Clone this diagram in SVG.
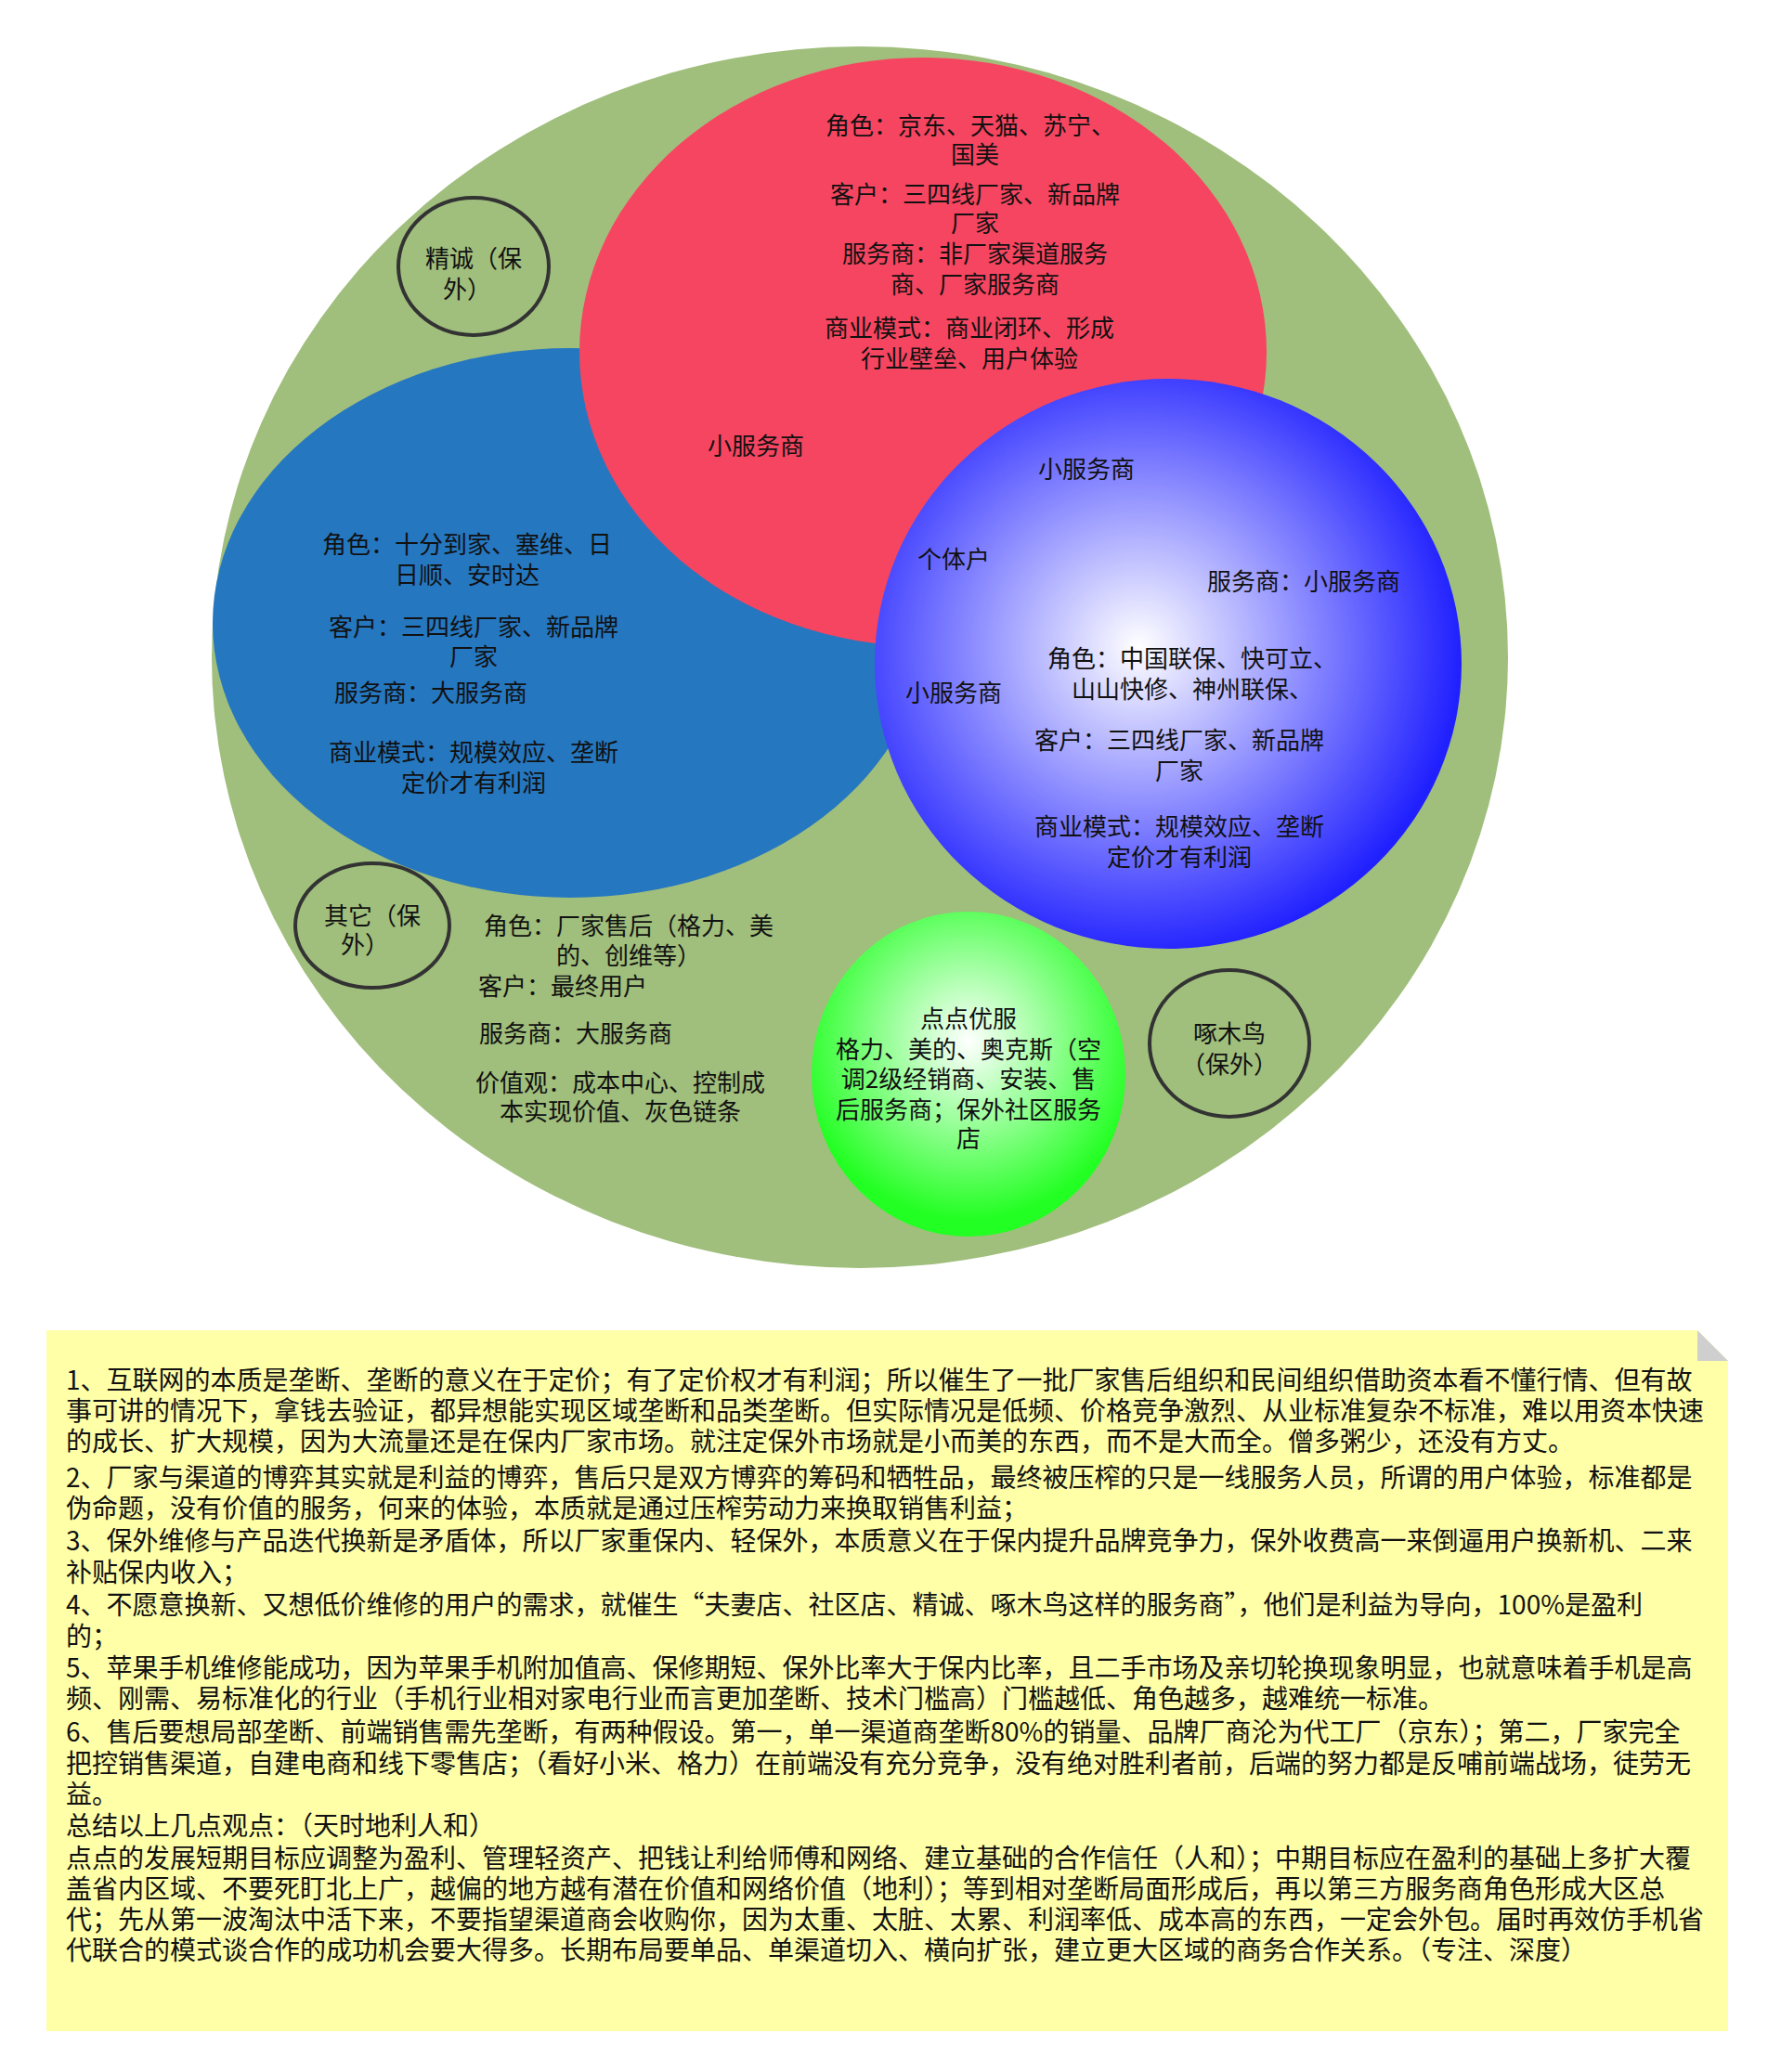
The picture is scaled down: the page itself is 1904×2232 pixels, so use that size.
<svg xmlns="http://www.w3.org/2000/svg" width="1904" height="2232" viewBox="0 0 1904 2232">
<style>
text{font-family:"Noto Sans CJK SC","Noto Sans",sans-serif;font-size:26px;fill:#111;text-anchor:middle;dominant-baseline:central}
.n text{text-anchor:start;font-size:28px}
.ring{fill:none;stroke:#333;stroke-width:4}
</style>
<defs>
<radialGradient id="gb" cx="0.45" cy="0.47" r="0.55"><stop offset="0" stop-color="#ffffff"/><stop offset="1" stop-color="#2020ff"/></radialGradient>
<radialGradient id="gg" cx="0.5" cy="0.4" r="0.55"><stop offset="0" stop-color="#ffffff"/><stop offset="1" stop-color="#22ff22"/></radialGradient>
</defs>
<rect width="1904" height="2232" fill="#fff"/>
<g id="outer"><ellipse cx="926" cy="708" rx="698" ry="658" fill="#a0be7c"/></g>
<g id="blue"><ellipse cx="614" cy="671" rx="385" ry="296" fill="#2577c0"/></g>
<g id="red"><ellipse cx="994" cy="379" rx="370" ry="317" fill="#f64560"/></g>
<g id="gradblue"><ellipse cx="1258" cy="715" rx="316" ry="307" fill="url(#gb)"/></g>
<g id="green"><ellipse cx="1043" cy="1157" rx="169" ry="175" fill="url(#gg)"/></g>
<g id="red-text">
<text x="1045" y="133">角色：京东、天猫、苏宁、</text><text x="1050" y="164">国美</text>
<text x="1050" y="207">客户：三四线厂家、新品牌</text><text x="1050" y="238">厂家</text>
<text x="1050" y="271">服务商：非厂家渠道服务</text><text x="1050" y="304">商、厂家服务商</text>
<text x="1044" y="351">商业模式：商业闭环、形成</text><text x="1044" y="384">行业壁垒、用户体验</text>
<text x="814" y="478">小服务商</text>
</g>
<g id="blue-text">
<text x="503" y="584">角色：十分到家、塞维、日</text><text x="503" y="617">日顺、安时达</text>
<text x="510" y="673">客户：三四线厂家、新品牌</text><text x="510" y="705">厂家</text>
<text x="464" y="744">服务商：大服务商</text>
<text x="510" y="808">商业模式：规模效应、垄断</text><text x="510" y="841">定价才有利润</text>
</g>
<g id="grad-text">
<text x="1170" y="503">小服务商</text>
<text x="1027" y="600">个体户</text>
<text x="1404" y="624">服务商：小服务商</text>
<text x="1284" y="707">角色：中国联保、快可立、</text><text x="1284" y="740">山山快修、神州联保、</text>
<text x="1027" y="744">小服务商</text>
<text x="1270" y="795">客户：三四线厂家、新品牌</text><text x="1270" y="828">厂家</text>
<text x="1270" y="888">商业模式：规模效应、垄断</text><text x="1270" y="921">定价才有利润</text>
</g>
<g id="factory-text">
<text x="677" y="995">角色：厂家售后（格力、美</text><text x="677" y="1027">的、创维等）</text>
<text x="606" y="1060">客户：最终用户</text>
<text x="620" y="1111">服务商：大服务商</text>
<text x="668" y="1164">价值观：成本中心、控制成</text><text x="668" y="1195">本实现价值、灰色链条</text>
</g>
<g id="green-text">
<text x="1043" y="1095">点点优服</text><text x="1043" y="1128">格力、美的、奥克斯（空</text>
<text x="1043" y="1160">调2级经销商、安装、售</text><text x="1043" y="1193">后服务商；保外社区服务</text><text x="1043" y="1224">店</text>
</g>
<g id="jingcheng"><ellipse class="ring" cx="510" cy="287" rx="81" ry="74"/><text x="510" y="276">精诚（保</text><text x="503" y="309">外）</text></g>
<g id="qita"><ellipse class="ring" cx="401" cy="997" rx="83" ry="67"/><text x="401" y="984">其它（保</text><text x="393" y="1015">外）</text></g>
<g id="zhuomuniao"><ellipse class="ring" cx="1324" cy="1124" rx="86" ry="79"/><text x="1324" y="1111">啄木鸟</text><text x="1324" y="1144">（保外）</text></g>
<g id="connectors"></g>
<g id="note" class="n">
<path d="M50 1433 H1828 L1861 1466 V2188 H50 Z" fill="#ffffa8"/>
<path d="M1828 1433 L1861 1466 H1828 Z" fill="#cfcfcf"/>
<text x="71" y="1485">1、互联网的本质是垄断、垄断的意义在于定价；有了定价权才有利润；所以催生了一批厂家售后组织和民间组织借助资本看不懂行情、但有故</text>
<text x="71" y="1518">事可讲的情况下，拿钱去验证，都异想能实现区域垄断和品类垄断。但实际情况是低频、价格竞争激烈、从业标准复杂不标准，难以用资本快速</text>
<text x="71" y="1551">的成长、扩大规模，因为大流量还是在保内厂家市场。就注定保外市场就是小而美的东西，而不是大而全。僧多粥少，还没有方丈。</text>
<text x="71" y="1590">2、厂家与渠道的博弈其实就是利益的博弈，售后只是双方博弈的筹码和牺牲品，最终被压榨的只是一线服务人员，所谓的用户体验，标准都是</text>
<text x="71" y="1623">伪命题，没有价值的服务，何来的体验，本质就是通过压榨劳动力来换取销售利益；</text>
<text x="71" y="1658">3、保外维修与产品迭代换新是矛盾体，所以厂家重保内、轻保外，本质意义在于保内提升品牌竞争力，保外收费高一来倒逼用户换新机、二来</text>
<text x="71" y="1692">补贴保内收入；</text>
<text x="71" y="1727">4、不愿意换新、又想低价维修的用户的需求，就催生“夫妻店、社区店、精诚、啄木鸟这样的服务商”，他们是利益为导向，100%是盈利</text>
<text x="71" y="1761">的；</text>
<text x="71" y="1795">5、苹果手机维修能成功，因为苹果手机附加值高、保修期短、保外比率大于保内比率，且二手市场及亲切轮换现象明显，也就意味着手机是高</text>
<text x="71" y="1828">频、刚需、易标准化的行业（手机行业相对家电行业而言更加垄断、技术门槛高）门槛越低、角色越多，越难统一标准。</text>
<text x="71" y="1864">6、售后要想局部垄断、前端销售需先垄断，有两种假设。第一，单一渠道商垄断80%的销量、品牌厂商沦为代工厂（京东）；第二，厂家完全</text>
<text x="71" y="1898">把控销售渠道，自建电商和线下零售店；（看好小米、格力）在前端没有充分竞争，没有绝对胜利者前，后端的努力都是反哺前端战场，徒劳无</text>
<text x="71" y="1931">益。</text>
<text x="71" y="1965">总结以上几点观点：（天时地利人和）</text>
<text x="71" y="2000"> 点点的发展短期目标应调整为盈利、管理轻资产、把钱让利给师傅和网络、建立基础的合作信任（人和）；中期目标应在盈利的基础上多扩大覆</text>
<text x="71" y="2033">盖省内区域、不要死盯北上广，越偏的地方越有潜在价值和网络价值（地利）；等到相对垄断局面形成后，再以第三方服务商角色形成大区总</text>
<text x="71" y="2066">代；先从第一波淘汰中活下来，不要指望渠道商会收购你，因为太重、太脏、太累、利润率低、成本高的东西，一定会外包。届时再效仿手机省</text>
<text x="71" y="2099">代联合的模式谈合作的成功机会要大得多。长期布局要单品、单渠道切入、横向扩张，建立更大区域的商务合作关系。（专注、深度）</text>
</g>
</svg>
